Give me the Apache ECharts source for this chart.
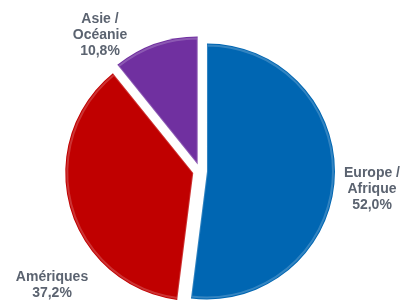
<!DOCTYPE html>
<html><head><meta charset="utf-8">
<script src="https://cdn.jsdelivr.net/npm/echarts@6/dist/echarts.min.js"></script>
<style>html,body{margin:0;padding:0;background:#fff}#c{width:404px;height:301px}</style>
</head><body><div id="c"></div>
<script>
const categories = ['Europe /\nAfrique', 'Amériques', 'Asie /\nOcéanie'];
const values = [52.0, 37.2, 10.8];
const valueLabels = ['52,0%', '37,2%', '10,8%'];
const colors = ['#0066b2', '#c00000', '#7030a0'];
const labelPos = [[372, 189], [52, 285], [100, 35]];

const textStyle = {fontFamily: 'Liberation Sans', fontWeight: 'bold', fontSize: 14, lineHeight: 16, fill: '#5b6370'};

const chart = echarts.init(document.getElementById('c'), null, {renderer: 'canvas'});
const pieBase = {
  type: 'pie',
  center: [200, 171],
  startAngle: 90,
  clockwise: true,
  selectedMode: 'multiple',
  selectedOffset: 7,
  emphasis: {disabled: true},
  label: {show: false},
  labelLine: {show: false}
};
chart.setOption({
  animation: false,
  series: [
    Object.assign({}, pieBase, {
      radius: [0, 128],
      data: categories.map((c, i) => ({name: c, value: values[i], selected: true, itemStyle: {color: colors[i]}}))
    }),
    Object.assign({}, pieBase, {
      radius: [0, 126],
      silent: true,
      z: 3,
      data: categories.map((c, i) => ({name: c, value: values[i], selected: true,
        itemStyle: {color: 'rgba(0,0,0,0)', borderColor: 'rgba(255,255,255,0.2)', borderWidth: 2}}))
    })
  ],
  graphic: categories.map((c, i) => ({
    type: 'text',
    x: labelPos[i][0],
    y: labelPos[i][1],
    style: Object.assign({text: c + '\n' + valueLabels[i], textAlign: 'center', textVerticalAlign: 'middle'}, textStyle)
  }))
});
</script></body></html>
